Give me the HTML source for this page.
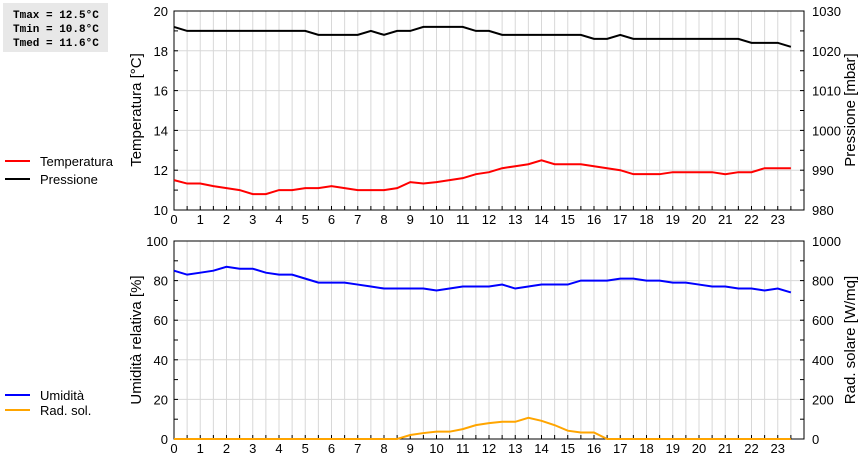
<!DOCTYPE html>
<html><head><meta charset="utf-8"><style>
body{margin:0;background:#fff;width:860px;height:460px;overflow:hidden;font-family:"Liberation Sans",sans-serif}
#stats{position:absolute;left:3px;top:3px;width:105px;height:49px;background:#e8e8e8;font:bold 11px "Liberation Mono","DejaVu Sans Mono",monospace;line-height:14px;padding:6px 0 0 10px;box-sizing:border-box}
</style></head><body>
<div id="stats">Tmax = 12.5°C<br>Tmin = 10.8°C<br>Tmed = 11.6°C</div>
<svg id="c" width="860" height="460" style="position:absolute;left:0;top:0" font-family="Liberation Sans, sans-serif" font-size="13"></svg>
<script>
const hours=[0,0.5,1,1.5,2,2.5,3,3.5,4,4.5,5,5.5,6,6.5,7,7.5,8,8.5,9,9.5,10,10.5,11,11.5,12,12.5,13,13.5,14,14.5,15,15.5,16,16.5,17,17.5,18,18.5,19,19.5,20,20.5,21,21.5,22,22.5,23,23.5];
const temperature=[11.5,11.33,11.33,11.2,11.1,11.0,10.8,10.8,11.0,11.0,11.1,11.1,11.2,11.1,11.0,11.0,11.0,11.1,11.4,11.33,11.4,11.5,11.6,11.8,11.9,12.1,12.2,12.3,12.5,12.3,12.3,12.3,12.2,12.1,12.0,11.8,11.8,11.8,11.9,11.9,11.9,11.9,11.8,11.9,11.9,12.1,12.1,12.1];
const pressure=[1026,1025,1025,1025,1025,1025,1025,1025,1025,1025,1025,1024,1024,1024,1024,1025,1024,1025,1025,1026,1026,1026,1026,1025,1025,1024,1024,1024,1024,1024,1024,1024,1023,1023,1024,1023,1023,1023,1023,1023,1023,1023,1023,1023,1022,1022,1022,1021];
const humidity=[85,83,84,85,87,86,86,84,83,83,81,79,79,79,78,77,76,76,76,76,75,76,77,77,77,78,76,77,78,78,78,80,80,80,81,81,80,80,79,79,78,77,77,76,76,75,76,74];
const radiation=[0,0,0,0,0,0,0,0,0,0,0,0,0,0,0,0,0,0,20,30,37,37,50,70,80,87,87,107,92,70,42,33,33,0,0,0,0,0,0,0,0,0,0,0,0,0,0,0];
const tempTicks=[10,12,14,16,18,20], presTicks=[980,990,1000,1010,1020,1030];
const humTicks=[0,20,40,60,80,100], radTicks=[0,200,400,600,800,1000];
const hourTicks=[0,1,2,3,4,5,6,7,8,9,10,11,12,13,14,15,16,17,18,19,20,21,22,23];
const NS="http://www.w3.org/2000/svg", svg=document.getElementById('c');
const X0=174,X1=804;
const xs=h=>X0+(X1-X0)*h/24;
function mk(t,a,p){const e=document.createElementNS(NS,t);for(const k in a)e.setAttribute(k,a[k]);(p||svg).appendChild(e);return e;}
function panel(top,bot,lmin,lmax,rmin,rmax,lt,rt,minorL,minorR,name){
 const g=mk('g',{});
 
 
 const yl=v=>bot-(bot-top)*(v-lmin)/(lmax-lmin), yr=v=>bot-(bot-top)*(v-rmin)/(rmax-rmin);
 for(let h=0.5;h<24;h+=0.5){mk('line',{x1:xs(h),x2:xs(h),y1:top,y2:bot,stroke:'#d8d8d8'},g);}
 lt.forEach(v=>{if(v>lmin&&v<lmax)mk('line',{x1:X0,x2:X1,y1:yl(v),y2:yl(v),stroke:'#d8d8d8'},g);});
 mk('rect',{x:X0,y:top,width:X1-X0,height:bot-top,fill:'none',stroke:'#000'},g);
 for(let v=lmin;v<=lmax;v+=minorL)mk('line',{x1:X0,x2:X0+4,y1:yl(v),y2:yl(v),stroke:'#000'},g);
 for(let v=rmin;v<=rmax;v+=minorR)mk('line',{x1:X1-4,x2:X1,y1:yr(v),y2:yr(v),stroke:'#000'},g);
 for(let h=0;h<24;h+=0.5)mk('line',{x1:xs(h),x2:xs(h),y1:bot-4,y2:bot,stroke:'#000'},g);
 lt.forEach(v=>{const t=mk('text',{x:168,y:yl(v)+5,'text-anchor':'end'},g);t.textContent=v;});
 rt.forEach(v=>{const t=mk('text',{x:812,y:yr(v)+5},g);t.textContent=v;});
 hourTicks.forEach(h=>{const t=mk('text',{x:xs(h),y:bot+14,'text-anchor':'middle'},g);t.textContent=h;});
 return {yl,yr};
}
function line(vals,y,color,name){const p=mk('polyline',{points:vals.map((v,i)=>xs(hours[i])+','+y(v)).join(' '),fill:'none',stroke:color,'stroke-width':2});
 
 }
function title(txt,x,y,name){const t=mk('text',{x:x,y:y,'text-anchor':'middle','font-size':15,transform:`rotate(-90 ${x} ${y})`});t.textContent=txt;
 
 }
function legend(txt,y,color,name){mk('line',{x1:5,x2:30,y1:y,y2:y,stroke:color,'stroke-width':2});
 const t=mk('text',{x:40,y:y+5});t.textContent=txt;
 
 }
const a=panel(11,210,10,20,980,1030,tempTicks,presTicks,1,5,'top');
line(pressure,a.yr,'#000','pressure-line');
line(temperature,a.yl,'#f00','temperature-line');
const b=panel(241,439,0,100,0,1000,humTicks,radTicks,10,100,'bottom');
line(radiation,b.yr,'#ffa500','radiation-line');
line(humidity,b.yl,'#00f','humidity-line');
title('Temperatura [°C]',141,110,'y-axis-title-temperature');
title('Pressione [mbar]',855,110,'y-axis-title-pressure');
title('Umidità relativa [%]',141,340,'y-axis-title-humidity');
title('Rad. solare [W/mq]',855,340,'y-axis-title-radiation');
legend('Temperatura',161,'#f00','legend-temperatura');
legend('Pressione',179,'#000','legend-pressione');
legend('Umidità',395,'#00f','legend-umidita');
legend('Rad. sol.',410,'#ffa500','legend-rad-sol');
</script>
</body></html>
